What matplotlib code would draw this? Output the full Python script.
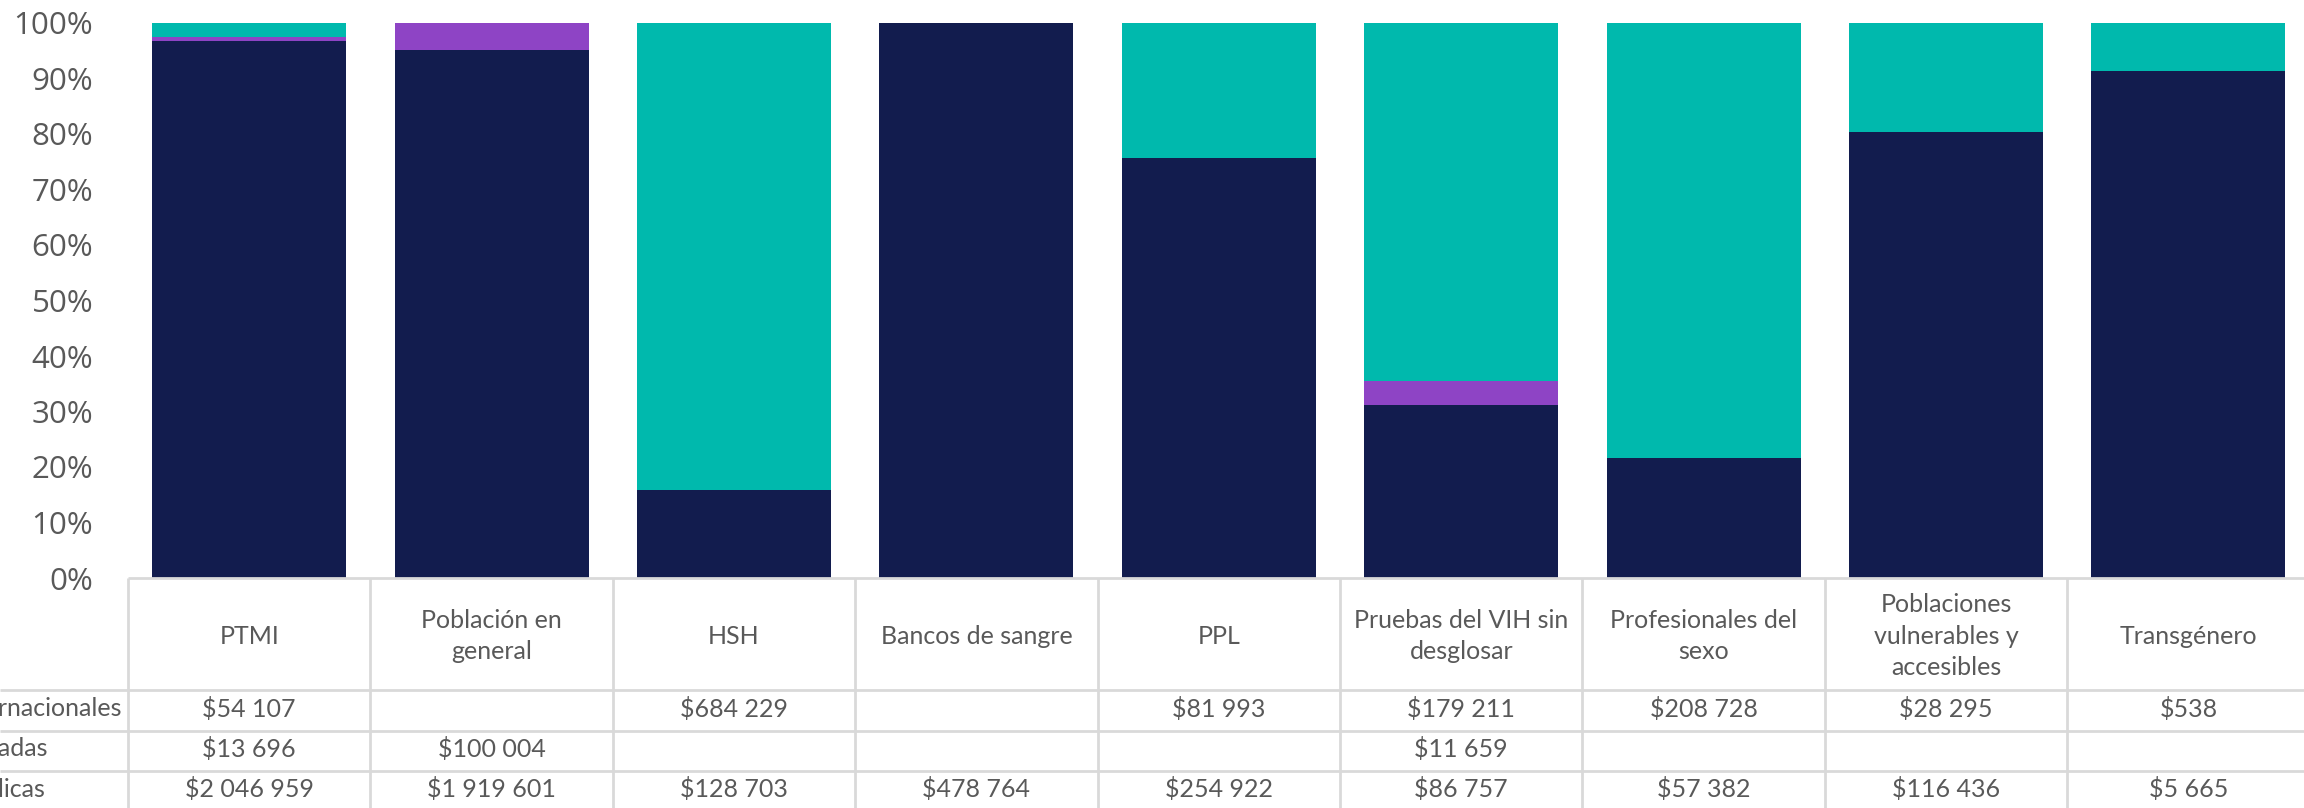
import matplotlib
matplotlib.use("Agg")
import matplotlib.pyplot as plt
import numpy as np

# ---------------- data ----------------
categories = ["PTMI", "Población en\ngeneral", "HSH", "Bancos de sangre", "PPL",
              "Pruebas del VIH sin\ndesglosar", "Profesionales del\nsexo",
              "Poblaciones\nvulnerables y\naccesibles", "Transgénero"]
series_names = ["Internacionales", "Privadas", "Públicas"]
internacionales = [54107, None, 684229, None, 81993, 179211, 208728, 28295, 538]
privadas = [13696, 100004, None, None, None, 11659, None, None, None]
publicas = [2046959, 1919601, 128703, 478764, 254922, 86757, 57382, 116436, 5665]
ytick_values = [0, 10, 20, 30, 40, 50, 60, 70, 80, 90, 100]

# ---------------- style ----------------
NAVY = "#121C4E"
PURPLE = "#8E44C5"
TEAL = "#00B9AD"
LINE = "#D9D9D9"
TXT = "#595959"
W, H = 2304, 808

fig = plt.figure(figsize=(W / 100, H / 100), dpi=100)

col_w = 242.4
left_px = 128
base_px = 578
top_px = 23
ax = fig.add_axes([left_px / W, (H - base_px) / H, 9 * col_w / W, (base_px - top_px) / H])

series = [internacionales, privadas, publicas]
arr = np.array([[v if v is not None else 0 for v in s] for s in series], dtype=float)
pct = 100 * arr / arr.sum(axis=0)
x = np.arange(len(categories))

bottom = np.zeros(len(categories))
for row, color in zip([2, 1, 0], [NAVY, PURPLE, TEAL]):
    ax.bar(x, pct[row], width=0.8, bottom=bottom, color=color, linewidth=0)
    bottom += pct[row]

ax.set_xlim(-0.5, len(categories) - 0.5)
ax.set_ylim(0, 100)
for s in ax.spines.values():
    s.set_visible(False)
ax.set_xticks([])
ax.set_yticks(ytick_values)
ax.set_yticklabels([f"{t}%" for t in ytick_values], family="Open Sans", fontsize=22.5, color=TXT)
ax.tick_params(axis="y", length=0, pad=25)

# ---------------- data table ----------------
tab = fig.add_axes([left_px / W, 0, 9 * col_w / W, (H - base_px) / H])
tab.set_xlim(-0.5, len(categories) - 0.5)
tab.set_ylim(H, base_px)
tab.axis("off")

row_lines = [690, 731, 771]
row_bottom = 812
left_edge = -0.5 - left_px / col_w
TFONT = dict(family="Lato", fontsize=18, color=TXT)

tab.hlines(base_px, -0.5, len(categories) - 0.5, color=LINE, lw=2, clip_on=False)
for y in row_lines:
    tab.hlines(y, left_edge, len(categories) - 0.5, color=LINE, lw=2, clip_on=False)
for k in range(len(categories) + 1):
    tab.vlines(k - 0.5, base_px, row_bottom, color=LINE, lw=2, clip_on=False)

for i, cat in enumerate(categories):
    tab.text(i, (base_px + row_lines[0]) / 2 + 2, cat, ha="center", va="center",
             linespacing=1.45, **TFONT)

row_tops = row_lines
row_bots = row_lines[1:] + [row_bottom]

# row headers are left-aligned at a common x; the longest one ends just left of the table
renderer = fig.canvas.get_renderer()
probe = tab.text(-0.5 - 6 / col_w, 0, series_names[0], ha="right", va="center",
                 clip_on=False, **TFONT)
bb = probe.get_window_extent(renderer=renderer)
probe.remove()
x0_data = tab.transData.inverted().transform((bb.x0, bb.y0))[0]

for r, (name, vals) in enumerate(zip(series_names, series)):
    yc = (row_tops[r] + row_bots[r]) / 2 - 2
    tab.text(x0_data, yc, name, ha="left", va="center", clip_on=False, **TFONT)
    for i, v in enumerate(vals):
        if v is not None:
            tab.text(i, yc, "$" + f"{v:,}".replace(",", " "), ha="center", va="center", **TFONT)

fig.savefig("out.png", dpi=100)
